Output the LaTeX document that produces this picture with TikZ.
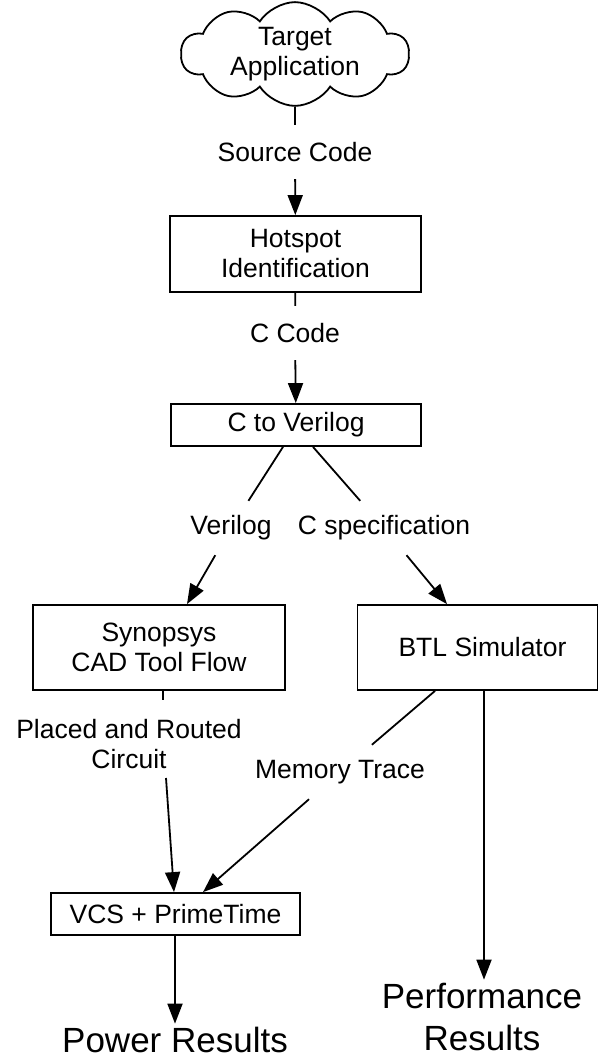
\documentclass[tikz,border=0pt]{standalone}
\usepackage{fontspec}
\setmainfont{Liberation Sans}
\usetikzlibrary{arrows.meta,shapes.symbols}
\begin{document}
\begin{tikzpicture}[x=1pt,y=-1pt,
  every node/.style={font=\fontsize{26.5}{30}\selectfont},
  stage/.style={draw,line width=1.8pt,inner sep=0pt,align=center},
  flowlbl/.style={align=center,inner sep=0pt,minimum height=54},
  result/.style={font=\fontsize{35}{42}\selectfont,align=center},
  link/.style={line width=1.8pt},
  arrow/.style={link,-{Triangle[length=20pt,width=15pt]}}]
\useasboundingbox (0,0) rectangle (599,1059);

% nodes of the flow
\node[cloud,draw,line width=1.8pt,cloud puffs=10,cloud puff arc=115,aspect=2.4,
      minimum width=228,minimum height=92,inner sep=0pt,align=center]
      (app) at (295,54) {Target\\Application};
\node[stage,minimum width=251,minimum height=76] (hot) at (295.5,254) {Hotspot\\Identification};
\node[stage,minimum width=250,minimum height=42] (ctv) at (296,425) {C to Verilog};
\node[stage,minimum width=252,minimum height=85] (syn) at (159,647.5) {Synopsys\\CAD Tool Flow};
\node[stage,minimum width=240,minimum height=85] (btl) at (477.5,647.5) {\hspace*{10pt}BTL Simulator};
\node[stage,minimum width=249,minimum height=42] (vcs) at (175.5,914) {VCS + PrimeTime};
\node[result] (pow) at (175,1040) {Power Results};
\node[result] (perf) at (482,1017) {Performance\\Results};

% connector labels
\node[flowlbl] (src) at (295,152) {Source Code};
\node[flowlbl] (cc) at (295,333) {C Code};
\node[flowlbl] (vl) at (231,528) {Verilog};
\node[flowlbl] (cs) at (384,528) {C specification};
\node[flowlbl,minimum height=80] (pr) at (129,744) {Placed and Routed\\Circuit};
\node[flowlbl] (mt) at (340,772) {Memory Trace};

% free ends of the routed-circuit connector
\coordinate (pa) at (163,700);
\coordinate (pb) at (166,778);

% connectors
\draw[arrow] (app) -- (src) -- (hot);
\draw[arrow] (hot) -- (cc) -- (ctv);
\draw[arrow] (ctv.south -| 283,0) -- (vl) -- (syn.north -| 187,0);
\draw[arrow] (ctv.south -| 313,0) -- (cs) -- (btl.north -| 447,0);
\draw[link] (syn.south -| pa) -- (pa);
\draw[arrow] (pb) -- (vcs.north -| 174,0);
\draw[arrow] (btl.south -| 435,0) -- (mt) -- (vcs.north -| 203,0);
\draw[arrow] (btl.south -| 484,0) -- (perf.north -| 484,0);
\draw[arrow] (vcs.south -| 175,0) -- (pow);
\end{tikzpicture}
\end{document}
